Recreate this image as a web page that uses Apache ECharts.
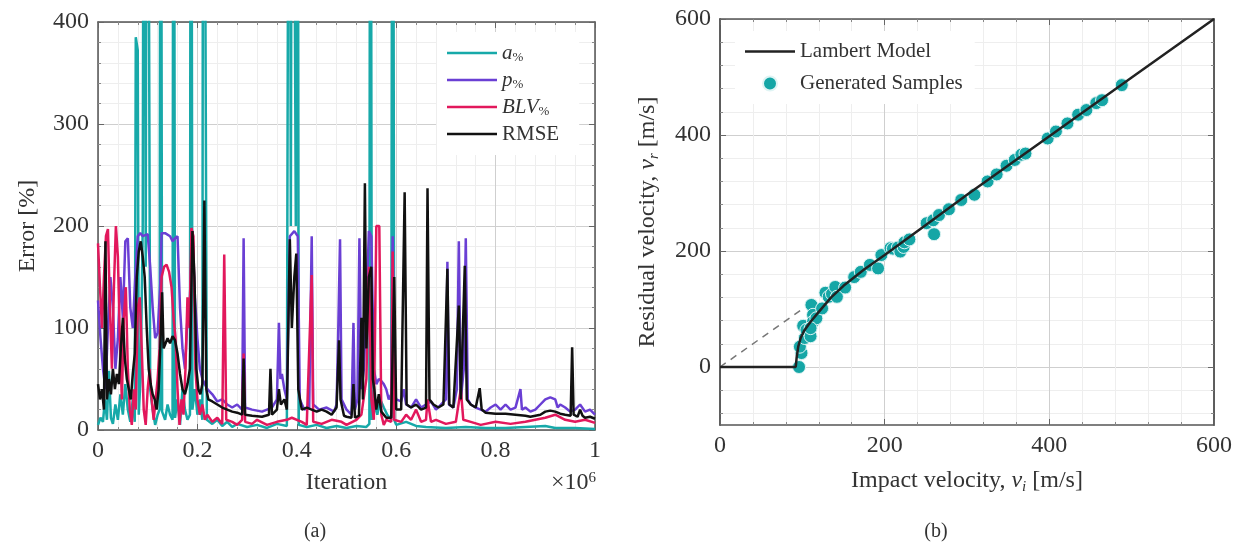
<!DOCTYPE html>
<html>
<head>
<meta charset="utf-8">
<script src="https://cdn.jsdelivr.net/npm/echarts@6/dist/echarts.min.js"></script>
<style>
  html, body { margin: 0; padding: 0; background: #fff; }
  #chart { width: 1238px; height: 545px; }
</style>
</head>
<body>
<div id="chart"></div>
<script>
// (a) training errors, x in units of 1e6 iterations
var aPct = [[0,5],[0.005,12],[0.01,8],[0.014,30],[0.018,10],[0.022,58],[0.026,12],[0.03,6],[0.035,25],[0.04,10],[0.045,35],[0.05,15],[0.055,45],[0.06,20],[0.065,8],[0.07,30],[0.074,8],
  [0.076,385],[0.08,372],[0.082,15],[0.086,55],[0.09,200],[0.093,1000],[0.096,160],[0.099,1000],[0.102,1000],[0.105,40],[0.11,20],[0.115,5],[0.12,15],[0.124,20],
  [0.126,1000],[0.129,18],[0.135,10],[0.14,25],[0.145,15],[0.15,10],[0.152,1000],[0.155,12],[0.16,30],[0.165,5],[0.17,40],[0.175,20],[0.18,10],[0.185,15],
  [0.187,1000],[0.19,20],[0.195,40],[0.2,15],[0.205,30],[0.21,10],[0.212,1000],[0.216,1000],[0.219,10],[0.23,6],[0.24,10],[0.25,4],[0.26,8],[0.27,3],[0.28,6],
  [0.3,3],[0.32,5],[0.34,2],[0.36,6],[0.38,4],[0.385,1000],[0.388,200],[0.391,1000],[0.395,1000],[0.398,200],[0.401,1000],[0.404,5],[0.42,3],[0.44,5],[0.46,2],
  [0.48,4],[0.5,2],[0.52,4],[0.54,3],[0.546,6],[0.548,1000],[0.551,10],[0.556,25],[0.562,15],[0.568,30],[0.575,22],[0.582,15],[0.59,10],[0.593,1000],[0.596,10],
  [0.6,5],[0.62,8],[0.64,4],[0.66,3],[0.7,2],[0.74,3],[0.78,2],[0.82,2],[0.86,3],[0.9,4],[0.92,2],[0.96,2],[1,1]];

var pPct = [[0,127],[0.005,90],[0.01,60],[0.015,40],[0.02,100],[0.025,150],[0.03,120],[0.035,60],[0.04,90],[0.045,150],[0.05,110],[0.055,185],[0.06,188],[0.065,120],
  [0.07,100],[0.075,150],[0.08,190],[0.085,193],[0.09,190],[0.1,192],[0.105,160],[0.11,120],[0.115,90],[0.12,95],[0.125,140],[0.128,193],[0.135,193],[0.145,190],
  [0.15,185],[0.155,188],[0.16,190],[0.165,120],[0.17,80],[0.175,60],[0.18,110],[0.185,130],[0.19,195],[0.195,130],[0.2,90],[0.205,60],[0.21,50],[0.215,45],
  [0.22,40],[0.23,35],[0.24,28],[0.25,30],[0.26,25],[0.27,22],[0.28,25],[0.29,20],[0.293,188],[0.296,22],[0.31,20],[0.33,18],[0.35,22],[0.36,30],[0.364,105],
  [0.367,50],[0.37,55],[0.375,40],[0.38,30],[0.386,190],[0.395,195],[0.402,190],[0.406,30],[0.415,20],[0.425,22],[0.43,190],[0.433,25],[0.445,20],[0.46,22],
  [0.475,18],[0.48,25],[0.483,88],[0.487,187],[0.49,30],[0.5,20],[0.51,15],[0.514,105],[0.517,20],[0.522,30],[0.526,188],[0.53,40],[0.535,60],[0.54,120],
  [0.545,195],[0.55,190],[0.555,60],[0.56,45],[0.565,50],[0.57,48],[0.575,45],[0.58,40],[0.585,30],[0.59,35],[0.593,190],[0.596,40],[0.6,30],[0.61,28],
  [0.615,40],[0.62,25],[0.63,22],[0.64,30],[0.65,22],[0.66,25],[0.67,28],[0.68,20],[0.69,25],[0.7,30],[0.703,165],[0.706,25],[0.715,22],[0.722,40],[0.726,185],
  [0.73,30],[0.736,60],[0.74,188],[0.744,30],[0.75,25],[0.76,22],[0.77,20],[0.78,18],[0.79,22],[0.8,25],[0.81,20],[0.82,25],[0.83,20],[0.84,22],[0.85,40],
  [0.853,20],[0.86,22],[0.87,18],[0.88,20],[0.89,25],[0.9,30],[0.91,32],[0.92,30],[0.925,22],[0.93,25],[0.94,22],[0.95,18],[0.96,20],[0.97,25],[0.98,18],[0.99,20],[1,15]];

var blvPct = [[0,183],[0.004,140],[0.008,100],[0.012,150],[0.016,190],[0.02,197],[0.024,120],[0.028,60],[0.032,140],[0.036,200],[0.04,170],[0.044,90],[0.048,30],
  [0.052,110],[0.056,140],[0.06,60],[0.064,20],[0.068,5],[0.072,40],[0.076,20],[0.08,120],[0.084,130],[0.088,80],[0.092,20],[0.096,5],[0.1,40],[0.104,60],[0.108,30],
  [0.112,10],[0.116,30],[0.12,50],[0.124,80],[0.128,150],[0.133,160],[0.138,162],[0.143,155],[0.148,140],[0.152,110],[0.156,90],[0.16,40],[0.164,5],[0.168,30],
  [0.172,15],[0.176,60],[0.18,130],[0.184,100],[0.188,198],[0.192,190],[0.196,60],[0.2,30],[0.205,15],[0.21,25],[0.215,10],[0.22,15],[0.23,8],[0.24,12],[0.25,6],
  [0.254,172],[0.258,10],[0.27,8],[0.28,5],[0.29,10],[0.293,75],[0.296,8],[0.31,6],[0.32,10],[0.34,5],[0.36,8],[0.38,10],[0.39,12],[0.41,8],[0.42,5],[0.43,152],
  [0.433,8],[0.45,6],[0.47,10],[0.49,8],[0.5,5],[0.52,10],[0.53,15],[0.54,50],[0.545,160],[0.55,30],[0.555,10],[0.56,200],[0.566,200],[0.57,15],[0.575,5],[0.58,10],
  [0.59,8],[0.593,175],[0.596,10],[0.61,8],[0.62,15],[0.63,10],[0.64,20],[0.65,8],[0.66,10],[0.663,30],[0.67,8],[0.68,10],[0.7,6],[0.72,8],[0.73,40],[0.735,10],
  [0.75,8],[0.77,5],[0.8,8],[0.83,6],[0.86,8],[0.9,12],[0.92,15],[0.94,10],[0.96,8],[0.98,10],[1,7]];

var rmse = [[0,45],[0.004,30],[0.008,40],[0.012,20],[0.015,185],[0.018,30],[0.022,50],[0.026,35],[0.03,60],[0.034,40],[0.038,55],[0.042,45],[0.046,80],[0.05,110],
  [0.054,70],[0.058,50],[0.062,40],[0.066,30],[0.07,55],[0.074,75],[0.078,150],[0.082,175],[0.086,185],[0.09,170],[0.094,150],[0.098,100],[0.102,60],[0.106,45],
  [0.11,35],[0.114,30],[0.118,20],[0.122,40],[0.126,90],[0.129,135],[0.132,80],[0.136,85],[0.14,90],[0.145,85],[0.15,92],[0.155,88],[0.16,75],[0.165,55],[0.17,40],
  [0.175,35],[0.18,45],[0.185,60],[0.19,195],[0.194,150],[0.198,60],[0.202,40],[0.206,35],[0.21,45],[0.214,225],[0.218,40],[0.222,30],[0.23,28],[0.24,25],[0.25,22],
  [0.26,20],[0.27,18],[0.28,17],[0.29,15],[0.293,70],[0.296,15],[0.31,14],[0.33,13],[0.344,15],[0.347,60],[0.35,15],[0.36,20],[0.364,40],[0.368,25],[0.375,30],
  [0.38,20],[0.386,187],[0.39,100],[0.395,150],[0.399,173],[0.403,40],[0.41,20],[0.42,22],[0.43,20],[0.44,18],[0.45,20],[0.46,18],[0.47,15],[0.48,22],[0.485,88],
  [0.488,30],[0.495,14],[0.5,13],[0.51,12],[0.514,45],[0.517,12],[0.525,14],[0.53,110],[0.533,30],[0.537,242],[0.54,80],[0.545,150],[0.55,160],[0.553,50],
  [0.556,40],[0.56,20],[0.565,35],[0.57,18],[0.58,12],[0.59,12],[0.596,150],[0.6,20],[0.61,20],[0.617,233],[0.621,25],[0.63,22],[0.64,25],[0.65,20],[0.66,22],
  [0.663,237],[0.667,30],[0.675,25],[0.685,22],[0.695,25],[0.703,158],[0.707,25],[0.715,22],[0.726,122],[0.73,30],[0.738,161],[0.742,30],[0.75,25],[0.76,22],
  [0.768,41],[0.772,20],[0.78,17],[0.8,16],[0.82,16],[0.84,15],[0.86,14],[0.87,13],[0.88,14],[0.89,15],[0.9,18],[0.91,19],[0.92,18],[0.93,16],[0.94,15],
  [0.951,14],[0.954,81],[0.957,15],[0.965,13],[0.97,20],[0.975,14],[0.98,12],[0.99,13],[1,11]];

// (b) impact vs residual velocity [m/s]
var lambertModel = [[0,0],[92,0],[93,15],[95,35],[98,50],[102,62],[110,78],[120,95],[135,120],[150,140],[175,168],[200,193],[250,245],[300,297],[400,398],[500,499],[600,600]];
var asymptote = [[0,0],[100,100]];
var samples = [[96,0],[99,24],[97,35],[103,50],[101,71],[105,64],[110,53],[111,107],[113,90],[113,78],[117,84],[110,67],[124,101],[128,128],[132,121],[136,126],
  [140,138],[142,121],[152,137],[163,155],[171,164],[182,176],[192,170],[196,193],[207,205],[210,204],[216,206],[219,199],[223,207],[224,215],[230,220],
  [251,248],[259,253],[260,229],[266,262],[278,272],[293,288],[309,297],[325,320],[336,332],[348,347],[358,357],[366,366],[371,368],[398,394],[408,406],
  [422,420],[435,435],[445,443],[457,455],[464,460],[488,486]];

// tick values of the residual-velocity axis (its range starts at -100)
var vrMajorTicks = [0, 200, 400, 600];
var vrMinorTicks = [-80, -40, 40, 80, 120, 160, 240, 280, 320, 360, 440, 480, 520, 560];

var font = 'Liberation Serif';
var ink = '#333';
var gridMajor = '#cfcfcf';
var gridMinor = '#eeeeee';
var lineIcon = 'path://M0,0 L40,0 L40,2 L0,2 Z';

function mainAxis(gridIndex, pos, min, max, interval, name, nameGap, extra) {
  var ax = {
    type: 'value', gridIndex: gridIndex, position: pos, min: min, max: max, interval: interval,
    name: name, nameLocation: 'middle', nameGap: nameGap,
    nameTextStyle: { fontFamily: font, fontSize: 24, color: ink },
    axisLine: { show: true, onZero: false, lineStyle: { color: '#555', width: 1.5 } },
    axisTick: { show: true, inside: true, length: 6, lineStyle: { color: '#666' } },
    minorTick: { show: true, splitNumber: 5, length: 3, lineStyle: { color: '#888' } },
    axisLabel: { fontFamily: font, fontSize: 24, color: ink, margin: 9 },
    splitLine: { show: true, lineStyle: { color: gridMajor, width: 1 } },
    minorSplitLine: { show: true, lineStyle: { color: gridMinor, width: 1 } }
  };
  return Object.assign(ax, extra || {});
}
function mirrorAxis(gridIndex, pos, min, max, interval) {
  return {
    type: 'value', gridIndex: gridIndex, position: pos, min: min, max: max, interval: interval,
    axisLine: { show: true, onZero: false, lineStyle: { color: '#555', width: 1.5 } },
    axisTick: { show: true, inside: true, length: 6, lineStyle: { color: '#666' } },
    minorTick: { show: true, splitNumber: 5, length: 3, lineStyle: { color: '#888' } },
    axisLabel: { show: false }, splitLine: { show: false }
  };
}
// residual velocity axes use explicit tick values
function vrAxis(pos, ticks, tickLen, withLabels, splitColor, extra) {
  var ax = {
    type: 'value', gridIndex: 1, position: pos, min: -100, max: 600, interval: 20,
    axisLine: { show: true, onZero: false, lineStyle: { color: '#555', width: 1.5 } },
    axisTick: { show: true, inside: true, length: tickLen, customValues: ticks, lineStyle: { color: tickLen > 4 ? '#666' : '#888' } },
    minorTick: { show: false },
    axisLabel: withLabels ? { fontFamily: font, fontSize: 24, color: ink, margin: 9, customValues: ticks } : { show: false },
    splitLine: splitColor ? { show: true, lineStyle: { color: splitColor, width: 1 } } : { show: false }
  };
  return Object.assign(ax, extra || {});
}

var subRich = {
  i: { fontFamily: font, fontStyle: 'italic', fontSize: 24, color: ink, lineHeight: 28 },
  s: { fontFamily: font, fontStyle: 'italic', fontSize: 15, color: ink, lineHeight: 15, verticalAlign: 'bottom' },
  n: { fontFamily: font, fontSize: 24, color: ink, lineHeight: 28 }
};
var legRich = {
  i: { fontFamily: font, fontStyle: 'italic', fontSize: 21, color: ink, lineHeight: 22 },
  s: { fontFamily: font, fontSize: 13, color: ink, lineHeight: 12, verticalAlign: 'bottom' },
  n: { fontFamily: font, fontSize: 21, color: ink, lineHeight: 22 }
};
var legLabels = { a: '{i|a}{s|%}', p: '{i|p}{s|%}', BLV: '{i|BLV}{s|%}', RMSE: '{n|RMSE}' };

var chart = echarts.init(document.getElementById('chart'), null, { renderer: 'canvas' });
chart.setOption({
  animation: false,
  backgroundColor: '#fff',
  title: [
    { text: '(a)', left: 310, top: 517, textAlign: 'center', textStyle: { fontFamily: font, fontSize: 20, fontWeight: 'normal', color: ink } },
    { text: '(b)', left: 931, top: 517, textAlign: 'center', textStyle: { fontFamily: font, fontSize: 20, fontWeight: 'normal', color: ink } }
  ],
  graphic: [{
    type: 'text', right: 1238 - 596, top: 471,
    style: { text: '×10{sup|6}', fontFamily: font, fontSize: 24, fill: ink,
      rich: { sup: { fontFamily: font, fontSize: 15, fill: ink, verticalAlign: 'top', lineHeight: 15 } } }
  }],
  grid: [
    { left: 98, top: 22, width: 497, height: 408 },
    { left: 720, top: 19, width: 494, height: 406 }
  ],
  xAxis: [
    mainAxis(0, 'bottom', 0, 1, 0.2, 'Iteration', 41),
    mirrorAxis(0, 'top', 0, 1, 0.2),
    mainAxis(1, 'bottom', 0, 600, 200, 'Impact velocity, {i|v}{s|i} {n|[m/s]}', 42, {
      nameTextStyle: { fontFamily: font, fontSize: 24, color: ink, rich: subRich } }),
    mirrorAxis(1, 'top', 0, 600, 200)
  ],
  yAxis: [
    mainAxis(0, 'left', 0, 400, 100, 'Error [%]', 58),
    mirrorAxis(0, 'right', 0, 400, 100),
    vrAxis('left', vrMinorTicks, 3, false, gridMinor),
    vrAxis('right', vrMinorTicks, 3, false, null),
    vrAxis('left', vrMajorTicks, 6, true, gridMajor, {
      name: 'Residual velocity, {i|v}{s|r} {n|[m/s]}', nameLocation: 'middle', nameGap: 58,
      nameTextStyle: { fontFamily: font, fontSize: 24, color: ink, rich: subRich } }),
    vrAxis('right', vrMajorTicks, 6, false, null)
  ],
  legend: [
    {
      data: [{ name: 'a', icon: lineIcon }, { name: 'p', icon: lineIcon }, { name: 'BLV', icon: lineIcon }, { name: 'RMSE', icon: lineIcon }],
      orient: 'vertical', left: 437, top: 32,
      itemWidth: 50, itemHeight: 14, itemGap: 5, padding: [10, 20, 10, 10],
      backgroundColor: '#fff', selectedMode: false,
      formatter: function (n) { return legLabels[n]; },
      textStyle: { fontFamily: font, fontSize: 21, color: ink, lineHeight: 22, rich: legRich }
    },
    {
      data: [{ name: 'Lambert Model', icon: lineIcon }, { name: 'Generated Samples', icon: 'circle' }],
      orient: 'vertical', left: 735, top: 31,
      itemWidth: 50, itemHeight: 14, itemGap: 11, padding: [10, 12, 10, 10],
      backgroundColor: '#fff', selectedMode: false,
      textStyle: { fontFamily: font, fontSize: 21, color: ink, lineHeight: 20 }
    }
  ],
  series: [
    { name: 'a', type: 'line', xAxisIndex: 0, yAxisIndex: 0, data: aPct, symbol: 'none', clip: true,
      lineStyle: { color: '#17a9a9', width: 2.5 }, itemStyle: { color: '#17a9a9' } },
    { name: 'p', type: 'line', xAxisIndex: 0, yAxisIndex: 0, data: pPct, symbol: 'none', clip: true,
      lineStyle: { color: '#6a3fd4', width: 2.5 }, itemStyle: { color: '#6a3fd4' } },
    { name: 'BLV', type: 'line', xAxisIndex: 0, yAxisIndex: 0, data: blvPct, symbol: 'none', clip: true,
      lineStyle: { color: '#e2185c', width: 2.5 }, itemStyle: { color: '#e2185c' } },
    { name: 'RMSE', type: 'line', xAxisIndex: 0, yAxisIndex: 0, data: rmse, symbol: 'none', clip: true,
      lineStyle: { color: '#111', width: 2.5 }, itemStyle: { color: '#111' } },
    { name: 'asymptote', type: 'line', xAxisIndex: 2, yAxisIndex: 4, data: asymptote, symbol: 'none',
      lineStyle: { color: '#777', width: 1.5, type: [7, 6] } },
    { name: 'Lambert Model', type: 'line', xAxisIndex: 2, yAxisIndex: 4, data: lambertModel, symbol: 'none',
      lineStyle: { color: '#222', width: 2.5 }, itemStyle: { color: '#222' } },
    { name: 'Generated Samples', type: 'scatter', xAxisIndex: 2, yAxisIndex: 4, data: samples, symbolSize: 13,
      itemStyle: { color: '#15a6a6', borderColor: '#dff4f4', borderWidth: 1, opacity: 1 } }
  ]
});
</script>
</body>
</html>
